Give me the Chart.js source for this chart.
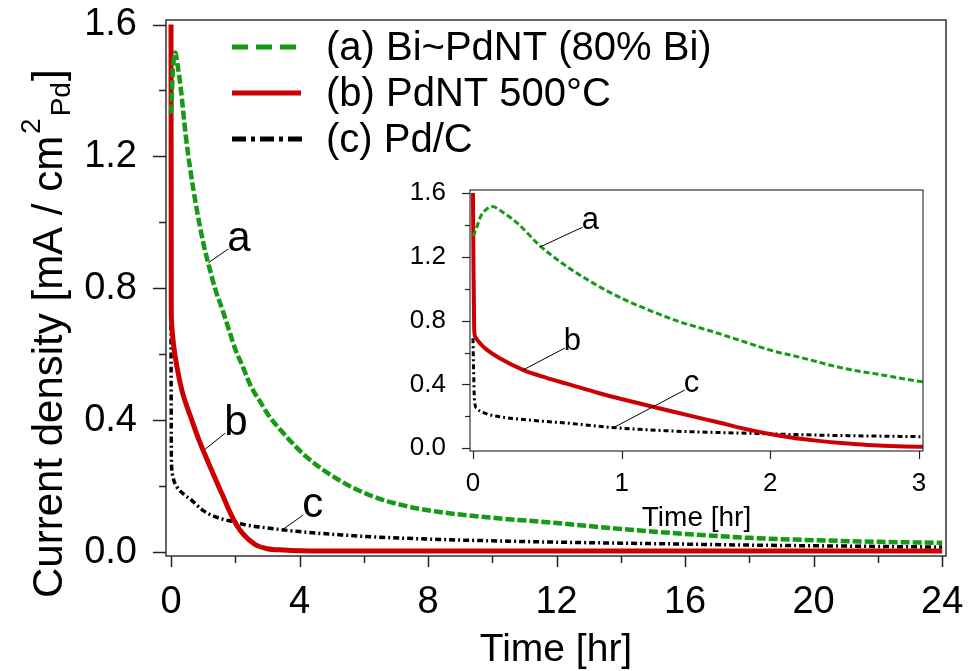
<!DOCTYPE html>
<html><head><meta charset="utf-8">
<script src="https://cdn.jsdelivr.net/npm/chart.js@4.4.1/dist/chart.umd.min.js"></script>
<style>
html,body{margin:0;padding:0;background:#fff;}
#wrap{position:relative;width:969px;height:671px;overflow:hidden;}
#main{position:absolute;left:0;top:0;}
#inset{position:absolute;left:380px;top:170px;}
</style></head><body>
<div id="wrap"><canvas id="main" width="969" height="671"></canvas><canvas id="inset" width="570" height="380"></canvas></div>
<script>
// ---- data (time in hr, current density in mA/cm2 Pd) ----
const timeA = [0, 0.02, 0.05, 0.1, 0.13, 0.2, 0.3, 0.45, 0.6, 0.8, 1.0, 1.2, 1.4, 1.6, 1.8, 2.0, 2.2, 2.5, 2.75, 3.0, 3.5, 4.2, 5.2, 6.3, 7.3, 8.4, 10, 12, 14, 16, 18, 20, 22, 24];
const curA  = [1.33, 1.37, 1.45, 1.505, 1.515, 1.48, 1.41, 1.27, 1.16, 1.04, 0.94, 0.86, 0.79, 0.735, 0.675, 0.615, 0.57, 0.50, 0.46, 0.42, 0.36, 0.29, 0.22, 0.168, 0.14, 0.121, 0.104, 0.088, 0.07, 0.055, 0.043, 0.036, 0.031, 0.028];
const timeB = [0, 0.003, 0.008, 0.015, 0.05, 0.09, 0.18, 0.34, 0.5, 0.63, 0.85, 1.08, 1.3, 1.5, 1.64, 1.8, 1.97, 2.15, 2.31, 2.5, 2.65, 3.0, 3.5, 4, 6, 10, 16, 24];
const curB  = [1.6, 1.2, 0.75, 0.7, 0.655, 0.62, 0.564, 0.49, 0.44, 0.405, 0.345, 0.29, 0.24, 0.195, 0.165, 0.128, 0.094, 0.066, 0.048, 0.031, 0.021, 0.01, 0.006, 0.004, 0.003, 0.003, 0.003, 0.003];
const timeC = [0, 0.004, 0.01, 0.025, 0.08, 0.18, 0.4, 0.63, 0.97, 1.3, 1.6, 1.9, 2.3, 3.0, 4, 5.3, 6.5, 8.4, 10, 12, 14, 16, 18, 20, 22, 24];
const curC  = [0.69, 0.5, 0.3, 0.25, 0.22, 0.198, 0.175, 0.158, 0.128, 0.11, 0.10, 0.093, 0.083, 0.073, 0.062, 0.052, 0.045, 0.038, 0.034, 0.03, 0.027, 0.024, 0.021, 0.019, 0.017, 0.015];
const seriesLabels = ['(a) Bi~PdNT (80% Bi)', '(b) PdNT 500°C', '(c) Pd/C'];
const curveTags = ['a', 'b', 'c'];
const xTicksMain  = [0, 2, 4, 6, 8, 10, 12, 14, 16, 18, 20, 22, 24];
const xLabelsMain = ['0', '', '4', '', '8', '', '12', '', '16', '', '20', '', '24'];
const yTicks  = [0, 0.2, 0.4, 0.6, 0.8, 1.0, 1.2, 1.4, 1.6];
const yLabels = ['0.0', '', '0.4', '', '0.8', '', '1.2', '', '1.6'];
const xTicksInset  = [0, 1, 2, 3];
const xLabelsInset = ['0', '1', '2', '3'];
const xTitle = 'Time [hr]';

const FONT = "'Liberation Sans', Arial, Helvetica, sans-serif";
Chart.defaults.font.family = FONT;
const GREEN = '#149a14', RED = '#cc0000', BLACK = '#000000';

function series(styles) {
  const ts = [timeA, timeB, timeC], vs = [curA, curB, curC], cols = [GREEN, RED, BLACK];
  return ts.map((t, k) => ({
    label: seriesLabels[k],
    data: t.map((x, i) => ({x: x, y: vs[k][i]})),
    borderColor: cols[k], backgroundColor: cols[k],
    borderWidth: styles[k].w, borderDash: styles[k].dash,
    pointRadius: 0, fill: false, cubicInterpolationMode: 'monotone',
    borderCapStyle: 'butt', borderJoinStyle: 'round'
  }));
}

function line(ctx, x1, y1, x2, y2) { ctx.beginPath(); ctx.moveTo(x1, y1); ctx.lineTo(x2, y2); ctx.stroke(); }

function decorPlugin(o) {
  return {
    id: 'decor',
    afterDraw(chart) {
      const ctx = chart.ctx, a = chart.chartArea, xs = chart.scales.x, ys = chart.scales.y;
      ctx.save();
      // frame
      ctx.strokeStyle = '#333'; ctx.lineWidth = o.frameW;
      ctx.strokeRect(a.left, a.top, a.right - a.left, a.bottom - a.top);
      // ticks
      ctx.strokeStyle = '#222'; ctx.lineWidth = o.tickW;
      o.xTicks.forEach((v, i) => {
        const p = Math.round(xs.getPixelForValue(v)) + 0.5;
        const len = o.xLabels[i] !== '' ? o.xMaj : o.xMin;
        line(ctx, p, a.bottom, p, a.bottom + len);
      });
      yTicks.forEach((v, i) => {
        const p = Math.round(ys.getPixelForValue(v)) + 0.5;
        const len = yLabels[i] !== '' ? o.yMaj : o.yMin;
        line(ctx, a.left, p, a.left - len, p);
      });
      // x title
      ctx.fillStyle = '#000';
      ctx.font = o.titleSize + 'px ' + FONT;
      ctx.textAlign = 'center'; ctx.textBaseline = 'alphabetic';
      ctx.fillText(xTitle, (a.left + a.right) / 2, o.titleY);
      // curve tags with leader lines
      ctx.lineWidth = 1; ctx.strokeStyle = '#000';
      ctx.font = o.tagSize + 'px ' + FONT; ctx.textAlign = 'left';
      o.tags.forEach(tg => {
        const px = xs.getPixelForValue(tg.t), py = ys.getPixelForValue(tg.v);
        line(ctx, px, py, px + tg.dx, py + tg.dy);
        ctx.fillText(curveTags[tg.k], px + tg.dx - 1, py + tg.dy + 2);
      });
      if (o.extra) o.extra(chart, ctx, a);
      ctx.restore();
    }
  };
}

function noPad(s) { s.paddingTop = 0; s.paddingBottom = 0; s.paddingLeft = 0; s.paddingRight = 0; }

function build(id, o) {
  return new Chart(document.getElementById(id), {
    type: 'line',
    data: { datasets: series(o.styles) },
    options: {
      responsive: false, animation: false, devicePixelRatio: 1,
      layout: { padding: { top: o.padTop, right: o.padRight, left: 0, bottom: 0 } },
      plugins: { legend: { display: false }, tooltip: { enabled: false } },
      scales: {
        x: {
          type: 'linear', min: o.xMinV, max: o.xMaxV,
          afterFit: s => { s.height = o.xH; noPad(s); },
          afterBuildTicks: s => { s.ticks = o.xTicks.map(v => ({ value: v })); },
          ticks: { autoSkip: false, maxRotation: 0, minRotation: 0, padding: o.xPad, color: '#000',
                   font: { size: o.tickSize }, callback: (v, i) => o.xLabels[i] },
          grid: { display: false }, border: { display: false }
        },
        y: {
          type: 'linear', min: o.yMinV, max: o.yMaxV,
          afterFit: s => { s.width = o.yW; noPad(s); },
          afterBuildTicks: s => { s.ticks = yTicks.map(v => ({ value: v })); },
          ticks: { autoSkip: false, padding: o.yPad, color: '#000',
                   font: { size: o.tickSize }, callback: (v, i) => yLabels[i] },
          grid: { display: false }, border: { display: false }
        }
      }
    },
    plugins: [decorPlugin(o)]
  });
}

// ---------- main chart ----------
build('main', {
  styles: [{ w: 4.5, dash: [9, 3] }, { w: 5, dash: [] }, { w: 3.5, dash: [6, 3, 2, 3] }],
  padTop: 20, padRight: 23, xH: 115, yW: 166,
  xMinV: -0.156, xMaxV: 24.12, yMinV: -0.012, yMaxV: 1.6137,
  xTicks: xTicksMain, xLabels: xLabelsMain,
  tickSize: 38, xPad: 16, yPad: 21, frameW: 1.5, tickW: 1.5,
  xMaj: 11, xMin: 7, yMaj: 13, yMin: 7,
  titleSize: 39, titleY: 661, tagSize: 42,
  tags: [{ k: 0, t: 1.16, v: 0.877, dx: 20, dy: -14 },
         { k: 1, t: 1.065, v: 0.312, dx: 20, dy: -16 },
         { k: 2, t: 3.46, v: 0.067, dx: 21, dy: -15 }],
  extra: (chart, ctx, a) => {
    // legend
    const rows = [47, 93, 139];
    const dashes = [[16, 8], [], [14, 5, 4, 5]];
    const ends = [296, 301, 302];
    const ds = chart.data.datasets;
    ctx.font = '40px ' + FONT; ctx.textAlign = 'left'; ctx.textBaseline = 'middle';
    rows.forEach((ry, k) => {
      ctx.save();
      ctx.strokeStyle = ds[k].borderColor; ctx.lineWidth = 5; ctx.setLineDash(dashes[k]);
      line(ctx, 232, ry, ends[k], ry);
      ctx.restore();
      ctx.fillStyle = '#000';
      ctx.fillText(ds[k].label, 326, ry + 2);
    });
    // y title with superscript / subscript
    ctx.save();
    ctx.translate(62, 598); ctx.rotate(-Math.PI / 2);
    ctx.textBaseline = 'alphabetic'; ctx.textAlign = 'left'; ctx.fillStyle = '#000';
    const F = 42, f2 = 28;
    ctx.font = F + 'px ' + FONT;
    const t1 = 'Current density [mA / cm';
    ctx.fillText(t1, 0, 0);
    let x = ctx.measureText(t1).width + 2;
    ctx.font = f2 + 'px ' + FONT;
    ctx.fillText('2', x, -22);
    x += ctx.measureText('2').width + 2;
    ctx.fillText('Pd', x, 8);
    x += ctx.measureText('Pd').width + 1;
    ctx.font = F + 'px ' + FONT;
    ctx.fillText(']', x, 0);
    ctx.restore();
  }
});

// ---------- inset chart ----------
build('inset', {
  styles: [{ w: 3, dash: [6, 3] }, { w: 4, dash: [] }, { w: 3, dash: [5, 3, 2, 3] }],
  padTop: 20, padRight: 27, xH: 99, yW: 90,
  xMinV: -0.02, xMaxV: 3.027, yMinV: -0.017, yMaxV: 1.619,
  xTicks: xTicksInset, xLabels: xLabelsInset,
  tickSize: 26, xPad: 9, yPad: 16, frameW: 1.2, tickW: 1.2,
  xMaj: 8, xMin: 5, yMaj: 8, yMin: 5,
  titleSize: 28, titleY: 356, tagSize: 31,
  tags: [{ k: 0, t: 0.449, v: 1.261, dx: 43, dy: -20 },
         { k: 1, t: 0.335, v: 0.49, dx: 42, dy: -22 },
         { k: 2, t: 0.953, v: 0.133, dx: 70, dy: -37 }]
});
</script>
</body></html>
